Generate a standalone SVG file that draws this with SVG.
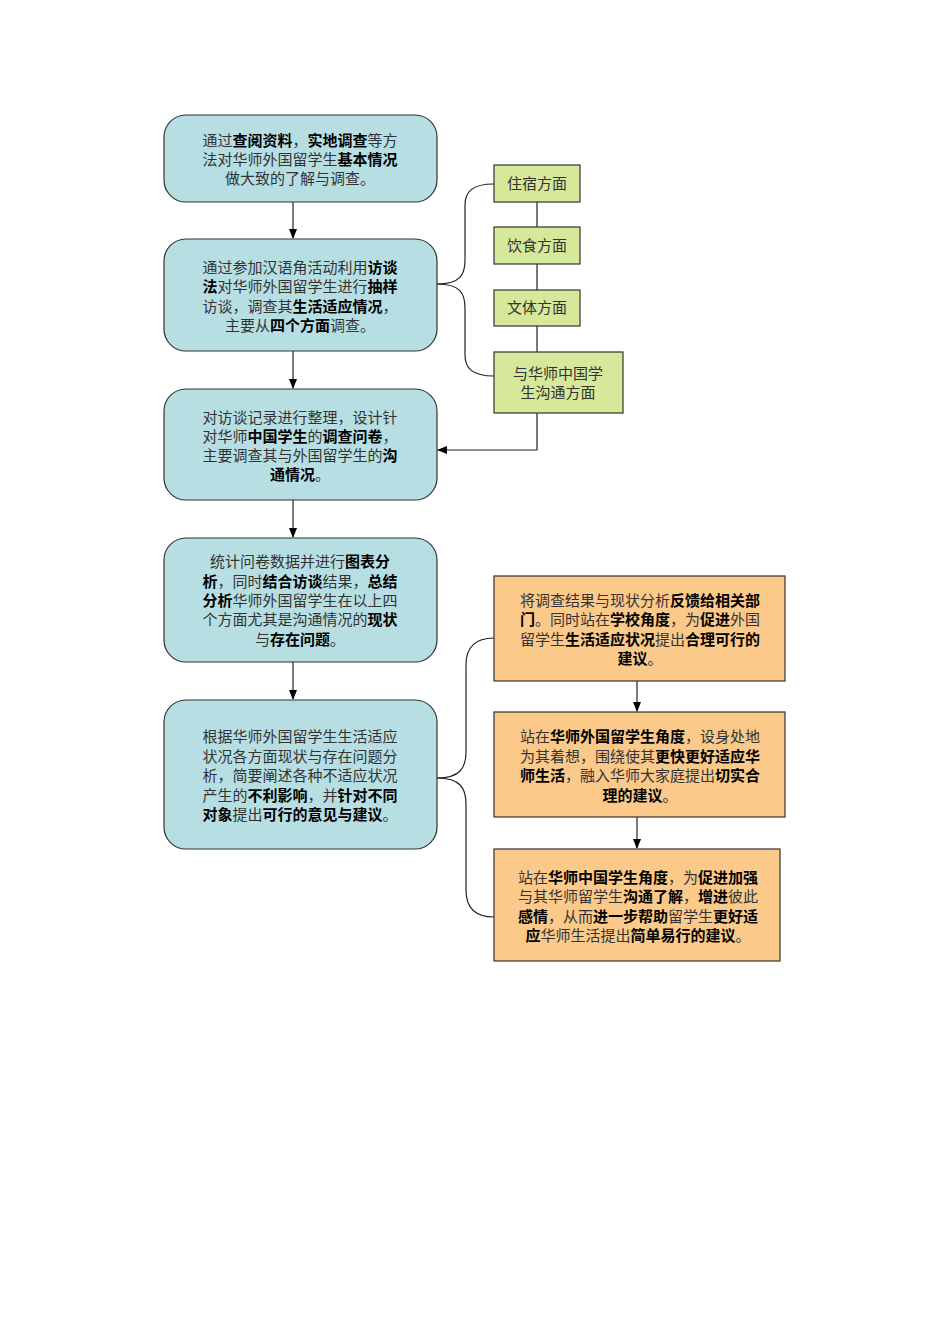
<svg xmlns="http://www.w3.org/2000/svg" width="950" height="1344" viewBox="0 0 950 1344">
<style>
.b{fill:#b7dfe3;stroke:#333;stroke-width:1.2}
.g{fill:#d6e89a;stroke:#333;stroke-width:1.2}
.o{fill:#fbc98a;stroke:#333;stroke-width:1.2}
text{font-family:"Noto Sans CJK SC",sans-serif;font-size:15px;fill:#333;text-anchor:middle}
.k{font-weight:bold;fill:#000}
.c{fill:none;stroke:#222;stroke-width:1.2}
</style>
<defs><marker id="a" markerWidth="10" markerHeight="10" refX="9" refY="5" orient="auto" markerUnits="userSpaceOnUse"><path d="M0,1 L10,5 L0,9z" fill="#000"/></marker></defs>
<rect width="950" height="1344" fill="#fff"/>
<g id="connectors">
<path class="c" d="M293,202V238" marker-end="url(#a)"/>
<path class="c" d="M293,351V388" marker-end="url(#a)"/>
<path class="c" d="M293,500V537" marker-end="url(#a)"/>
<path class="c" d="M293,662V699" marker-end="url(#a)"/>
<path class="c" d="M437,284C460,284 465,275 465,260V205C465,192 472,184 494,184"/>
<path class="c" d="M437,284C460,284 465,293 465,308V355C465,368 472,376 494,376"/>
<path class="c" d="M537,202V227M537,264V290M537,326V352"/>
<path class="c" d="M537,413V450H438" marker-end="url(#a)"/>
<path class="c" d="M437,778C460,778 466,768 466,752V665C466,648 474,638 494,638"/>
<path class="c" d="M437,778C460,778 466,788 466,804V890C466,907 474,917 494,917"/>
<path class="c" d="M637,681V711" marker-end="url(#a)"/>
<path class="c" d="M637,817V848" marker-end="url(#a)"/>
</g>
<g id="n1"><rect class="b" x="164" y="115" width="273" height="87" rx="22"/>
<text x="300" y="146">通过<tspan class="k">查阅资料</tspan>，<tspan class="k">实地调查</tspan>等方</text>
<text x="300" y="165">法对华师外国留学生<tspan class="k">基本情况</tspan></text>
<text x="300" y="184">做大致的了解与调查。</text></g>
<g id="n2"><rect class="b" x="164" y="239" width="273" height="112" rx="22"/>
<text x="300" y="273">通过参加汉语角活动利用<tspan class="k">访谈</tspan></text>
<text x="300" y="292"><tspan class="k">法</tspan>对华师外国留学生进行<tspan class="k">抽样</tspan></text>
<text x="300" y="312">访谈，调查其<tspan class="k">生活适应情况</tspan>，</text>
<text x="300" y="331">主要从<tspan class="k">四个方面</tspan>调查。</text></g>
<g id="n3"><rect class="b" x="164" y="389" width="273" height="111" rx="22"/>
<text x="300" y="423">对访谈记录进行整理，设计针</text>
<text x="300" y="442">对华师<tspan class="k">中国学生</tspan>的<tspan class="k">调查问卷</tspan>，</text>
<text x="300" y="461">主要调查其与外国留学生的<tspan class="k">沟</tspan></text>
<text x="300" y="480"><tspan class="k">通情况</tspan>。</text></g>
<g id="n4"><rect class="b" x="164" y="538" width="273" height="124" rx="22"/>
<text x="300" y="567">统计问卷数据并进行<tspan class="k">图表分</tspan></text>
<text x="300" y="587"><tspan class="k">析</tspan>，同时<tspan class="k">结合访谈</tspan>结果，<tspan class="k">总结</tspan></text>
<text x="300" y="606"><tspan class="k">分析</tspan>华师外国留学生在以上四</text>
<text x="300" y="625">个方面尤其是沟通情况的<tspan class="k">现状</tspan></text>
<text x="300" y="645">与<tspan class="k">存在问题</tspan>。</text></g>
<g id="n5"><rect class="b" x="164" y="700" width="273" height="149" rx="22"/>
<text x="300" y="742">根据华师外国留学生生活适应</text>
<text x="300" y="762">状况各方面现状与存在问题分</text>
<text x="300" y="781">析，简要阐述各种不适应状况</text>
<text x="300" y="801">产生的<tspan class="k">不利影响</tspan>，并<tspan class="k">针对不同</tspan></text>
<text x="300" y="820"><tspan class="k">对象</tspan>提出<tspan class="k">可行的意见与建议</tspan>。</text></g>
<g id="g1"><rect class="g" x="494" y="165" width="86" height="37"/><text x="537" y="189">住宿方面</text></g>
<g id="g2"><rect class="g" x="494" y="227" width="86" height="37"/><text x="537" y="251">饮食方面</text></g>
<g id="g3"><rect class="g" x="494" y="290" width="86" height="36"/><text x="537" y="313">文体方面</text></g>
<g id="g4"><rect class="g" x="494" y="352" width="129" height="61"/><text x="558" y="379">与华师中国学</text><text x="558" y="398">生沟通方面</text></g>
<g id="o1"><rect class="o" x="494" y="576" width="291" height="105"/>
<text x="640" y="606">将调查结果与现状分析<tspan class="k">反馈给相关部</tspan></text>
<text x="640" y="625"><tspan class="k">门</tspan>。同时站在<tspan class="k">学校角度</tspan>，为<tspan class="k">促进</tspan>外国</text>
<text x="640" y="645">留学生<tspan class="k">生活适应状况</tspan>提出<tspan class="k">合理可行的</tspan></text>
<text x="640" y="664"><tspan class="k">建议</tspan>。</text></g>
<g id="o2"><rect class="o" x="494" y="712" width="291" height="105"/>
<text x="640" y="742">站在<tspan class="k">华师外国留学生角度</tspan>，设身处地</text>
<text x="640" y="762">为其着想，围绕使其<tspan class="k">更快更好适应华</tspan></text>
<text x="640" y="781"><tspan class="k">师生活</tspan>，融入华师大家庭提出<tspan class="k">切实合</tspan></text>
<text x="640" y="801"><tspan class="k">理的建议</tspan>。</text></g>
<g id="o3"><rect class="o" x="494" y="849" width="286" height="112"/>
<text x="638" y="883">站在<tspan class="k">华师中国学生角度</tspan>，为<tspan class="k">促进加强</tspan></text>
<text x="638" y="902">与其华师留学生<tspan class="k">沟通了解</tspan>，<tspan class="k">增进</tspan>彼此</text>
<text x="638" y="922"><tspan class="k">感情</tspan>，从而<tspan class="k">进一步帮助</tspan>留学生<tspan class="k">更好适</tspan></text>
<text x="638" y="941"><tspan class="k">应</tspan>华师生活提出<tspan class="k">简单易行的建议</tspan>。</text></g>
</svg>
